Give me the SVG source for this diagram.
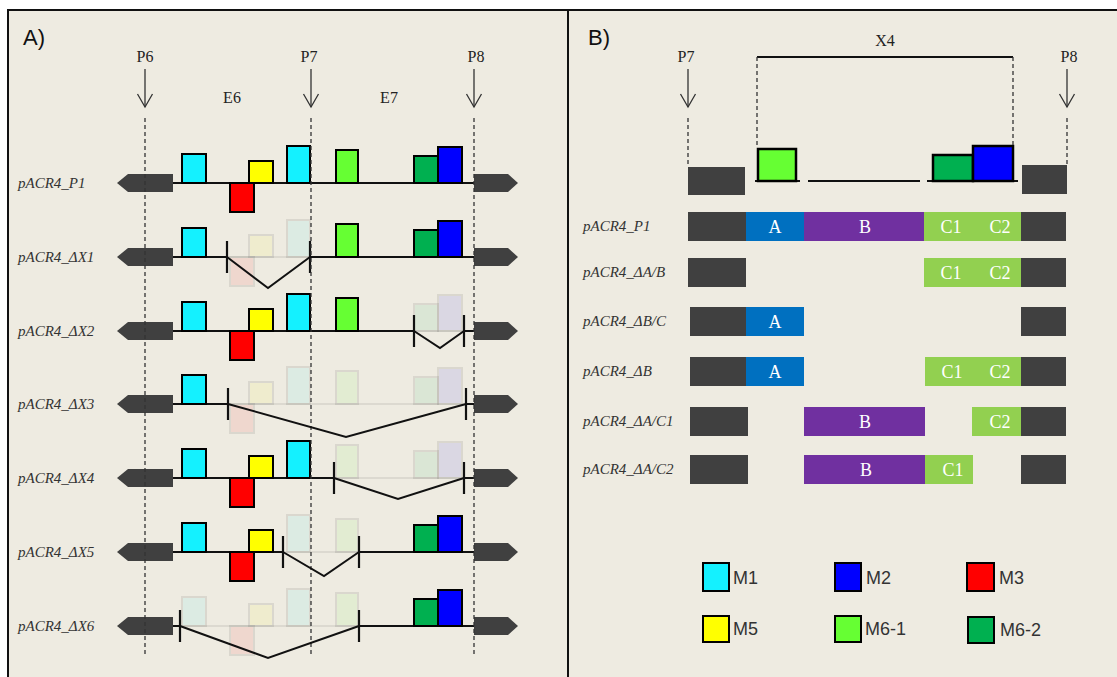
<svg xmlns="http://www.w3.org/2000/svg" width="1117" height="677" viewBox="0 0 1117 677">
<style>
.bg{fill:#EEEBE1}
.frame{stroke:#111;stroke-width:2;fill:none}
.lbl{font-family:"Liberation Serif",serif;font-size:16px;fill:#222;text-anchor:middle}
.row{font-family:"Liberation Serif",serif;font-style:italic;font-size:15px;fill:#333}
.pane{font-family:"Liberation Sans",sans-serif;font-size:22px;fill:#111}
.leg{font-family:"Liberation Sans",sans-serif;font-size:18px;fill:#333}
.bar{font-family:"Liberation Serif",serif;font-size:18px;fill:#fff;text-anchor:middle}
.dash{stroke:#333;stroke-width:1.3;stroke-dasharray:4 3;fill:none}
.ptr{stroke:#333;stroke-width:1.3;fill:none;marker-end:url(#open)}
.axis{stroke:#111;stroke-width:2;fill:none}
.splice{stroke:#111;stroke-width:2;fill:none;stroke-linejoin:miter}
.tick{stroke:#111;stroke-width:2.2}
.ghost{opacity:.08}
.box{stroke:#000;stroke-width:2}
.box2{stroke:#000;stroke-width:2.5}
.c-m1{fill:#14F1FF}
.c-m2{fill:#0000FF}
.c-m3{fill:#FF0000}
.c-m5{fill:#FFFF00}
.c-m61{fill:#66FF33}
.c-m62{fill:#00B050}
.end{fill:#404040}
.rA{fill:#0070C0}
.rB{fill:#7030A0}
.rC{fill:#92D050}
</style>
<defs>
  <marker id="open" markerUnits="userSpaceOnUse" markerWidth="20" markerHeight="20" viewBox="-16 -10 20 20" refX="0" refY="0" orient="auto">
    <path d="M-13,-7.5 L0,0 L-13,7.5" fill="none" stroke="#333" stroke-width="1.3"/>
  </marker>
  <!-- motif boxes, positioned relative to a row's baseline at y=0 -->
  <rect id="m1a" class="box c-m1" x="182" y="-29" width="24" height="29"/>
  <rect id="m3" class="box c-m3" x="230" y="0" width="24" height="29"/>
  <rect id="m5" class="box c-m5" x="249" y="-22" width="24" height="22"/>
  <rect id="m1b" class="box c-m1" x="287" y="-37" width="23" height="37"/>
  <rect id="m61" class="box c-m61" x="336" y="-33" width="22" height="33"/>
  <rect id="m62" class="box c-m62" x="414" y="-27" width="24" height="27"/>
  <rect id="m2" class="box c-m2" x="438" y="-36" width="24" height="36"/>
  <polygon id="endL" class="end" points="117,0 128,-9 173,-9 173,9 128,9"/>
  <polygon id="endR" class="end" points="474,-9 508,-9 518,0 508,9 474,9"/>
</defs>

<!-- page and panel frames -->
<rect x="0" y="0" width="1117" height="677" fill="#fff"/>
<rect class="bg" x="8" y="10" width="1109" height="667"/>
<path class="frame" d="M8,677 V10 H1117 M568,10 V677"/>

<!-- ===== Panel A ===== -->
<g id="panel-a">
  <text class="pane" x="23" y="45">A)</text>
  <text class="lbl" x="145" y="62">P6</text>
  <text class="lbl" x="309" y="62">P7</text>
  <text class="lbl" x="476" y="62">P8</text>
  <text class="lbl" x="232" y="103">E6</text>
  <text class="lbl" x="389" y="103">E7</text>

  <g id="row-p1" transform="translate(0,183)">
    <text class="row" x="18" y="5">pACR4_P1</text>
    <line class="axis" x1="173" y1="0" x2="474" y2="0"/>
    <use href="#endL"/><use href="#endR"/>
    <use href="#m1a"/><use href="#m3"/><use href="#m5"/><use href="#m1b"/>
    <use href="#m61"/><use href="#m62"/><use href="#m2"/>
  </g>

  <g id="row-dx1" transform="translate(0,257)">
    <text class="row" x="18" y="5">pACR4_ΔX1</text>
    <line class="axis ghost" x1="227" y1="0" x2="310" y2="0"/>
    <use href="#m3" class="ghost"/><use href="#m5" class="ghost"/><use href="#m1b" class="ghost"/>
    <line class="axis" x1="173" y1="0" x2="227" y2="0"/>
    <line class="axis" x1="310" y1="0" x2="474" y2="0"/>
    <use href="#endL"/><use href="#endR"/>
    <use href="#m1a"/><use href="#m61"/><use href="#m62"/><use href="#m2"/>
    <line class="tick" x1="227" y1="-16" x2="227" y2="16"/>
    <line class="tick" x1="310" y1="-16" x2="310" y2="16"/>
  </g>

  <g id="row-dx2" transform="translate(0,331)">
    <text class="row" x="18" y="5">pACR4_ΔX2</text>
    <line class="axis ghost" x1="414" y1="0" x2="464" y2="0"/>
    <use href="#m62" class="ghost"/><use href="#m2" class="ghost"/>
    <line class="axis" x1="173" y1="0" x2="414" y2="0"/>
    <line class="axis" x1="464" y1="0" x2="474" y2="0"/>
    <use href="#endL"/><use href="#endR"/>
    <use href="#m1a"/><use href="#m3"/><use href="#m5"/><use href="#m1b"/><use href="#m61"/>
    <line class="tick" x1="414" y1="-16" x2="414" y2="16"/>
    <line class="tick" x1="464" y1="-16" x2="464" y2="16"/>
  </g>

  <g id="row-dx3" transform="translate(0,404)">
    <text class="row" x="18" y="5">pACR4_ΔX3</text>
    <line class="axis ghost" x1="228" y1="0" x2="466" y2="0"/>
    <use href="#m3" class="ghost"/><use href="#m5" class="ghost"/><use href="#m1b" class="ghost"/>
    <use href="#m61" class="ghost"/><use href="#m62" class="ghost"/><use href="#m2" class="ghost"/>
    <line class="axis" x1="173" y1="0" x2="228" y2="0"/>
    <line class="axis" x1="466" y1="0" x2="474" y2="0"/>
    <use href="#endL"/><use href="#endR"/>
    <use href="#m1a"/>
    <line class="tick" x1="228" y1="-16" x2="228" y2="16"/>
    <line class="tick" x1="466" y1="-16" x2="466" y2="16"/>
  </g>

  <g id="row-dx4" transform="translate(0,478)">
    <text class="row" x="18" y="5">pACR4_ΔX4</text>
    <line class="axis ghost" x1="334" y1="0" x2="464" y2="0"/>
    <use href="#m61" class="ghost"/><use href="#m62" class="ghost"/><use href="#m2" class="ghost"/>
    <line class="axis" x1="173" y1="0" x2="334" y2="0"/>
    <line class="axis" x1="464" y1="0" x2="474" y2="0"/>
    <use href="#endL"/><use href="#endR"/>
    <use href="#m1a"/><use href="#m3"/><use href="#m5"/><use href="#m1b"/>
    <line class="tick" x1="334" y1="-16" x2="334" y2="16"/>
    <line class="tick" x1="464" y1="-16" x2="464" y2="16"/>
  </g>

  <g id="row-dx5" transform="translate(0,552)">
    <text class="row" x="18" y="5">pACR4_ΔX5</text>
    <line class="axis ghost" x1="283" y1="0" x2="359" y2="0"/>
    <use href="#m1b" class="ghost"/><use href="#m61" class="ghost"/>
    <line class="axis" x1="173" y1="0" x2="283" y2="0"/>
    <line class="axis" x1="359" y1="0" x2="474" y2="0"/>
    <use href="#endL"/><use href="#endR"/>
    <use href="#m1a"/><use href="#m3"/><use href="#m5"/><use href="#m62"/><use href="#m2"/>
    <line class="tick" x1="283" y1="-16" x2="283" y2="16"/>
    <line class="tick" x1="359" y1="-16" x2="359" y2="16"/>
  </g>

  <g id="row-dx6" transform="translate(0,626)">
    <text class="row" x="18" y="5">pACR4_ΔX6</text>
    <line class="axis ghost" x1="180" y1="0" x2="359" y2="0"/>
    <use href="#m1a" class="ghost"/><use href="#m3" class="ghost"/><use href="#m5" class="ghost"/>
    <use href="#m1b" class="ghost"/><use href="#m61" class="ghost"/>
    <line class="axis" x1="173" y1="0" x2="180" y2="0"/>
    <line class="axis" x1="359" y1="0" x2="474" y2="0"/>
    <use href="#endL"/><use href="#endR"/>
    <use href="#m62"/><use href="#m2"/>
    <line class="tick" x1="180" y1="-16" x2="180" y2="16"/>
    <line class="tick" x1="359" y1="-16" x2="359" y2="16"/>
  </g>

  <g id="connectors-a">
    <!-- primer pointers -->
    <line class="ptr" x1="145" y1="69" x2="145" y2="107"/>
    <line class="ptr" x1="311" y1="69" x2="311" y2="107"/>
    <line class="ptr" x1="474" y1="69" x2="474" y2="107"/>
    <!-- guide lines -->
    <line class="dash" x1="145" y1="118" x2="145" y2="656"/>
    <line class="dash" x1="311" y1="118" x2="311" y2="656"/>
    <line class="dash" x1="474" y1="118" x2="474" y2="656"/>
    <!-- splice junctions -->
    <polyline class="splice" points="227,257 268,288 310,257"/>
    <polyline class="splice" points="414,331 440,348 464,331"/>
    <polyline class="splice" points="228,404 346,437 466,404"/>
    <polyline class="splice" points="334,478 398,499 464,478"/>
    <polyline class="splice" points="283,552 324,576 359,552"/>
    <polyline class="splice" points="180,626 268,658 359,626"/>
  </g>
</g>

<!-- ===== Panel B ===== -->
<g id="panel-b">
  <text class="pane" x="588" y="45">B)</text>
  <text class="lbl" x="686" y="62">P7</text>
  <text class="lbl" x="1069" y="62">P8</text>
  <text class="lbl" x="885" y="46">X4</text>

  <g id="exon-map">
    <rect class="end" x="688" y="167" width="57" height="28"/>
    <rect class="end" x="1022" y="165" width="45" height="29"/>
    <line class="axis" x1="755" y1="181" x2="800" y2="181"/>
    <line class="axis" x1="808" y1="181" x2="920" y2="181"/>
    <line class="axis" x1="927" y1="181" x2="1018" y2="181"/>
    <rect class="box2 c-m61" x="758" y="149" width="38" height="32"/>
    <rect class="box2 c-m62" x="933" y="155" width="40" height="26"/>
    <rect class="box2 c-m2" x="973" y="146" width="40" height="35"/>
  </g>

  <g id="row-b-p1">
    <text class="row" x="583" y="231">pACR4_P1</text>
    <rect class="end" x="688" y="212" width="58" height="29"/>
    <rect class="rA" x="746" y="212" width="58" height="29"/>
    <rect class="rB" x="804" y="212" width="120" height="29"/>
    <rect class="rC" x="924" y="212" width="97" height="29"/>
    <rect class="end" x="1021" y="212" width="45" height="29"/>
    <text class="bar" x="775" y="233">A</text>
    <text class="bar" x="865" y="233">B</text>
    <text class="bar" x="951" y="233">C1</text>
    <text class="bar" x="1000" y="233">C2</text>
  </g>

  <g id="row-b-dab">
    <text class="row" x="583" y="277">pACR4_ΔA/B</text>
    <rect class="end" x="688" y="258" width="58" height="29"/>
    <rect class="rC" x="924" y="258" width="97" height="29"/>
    <rect class="end" x="1021" y="258" width="45" height="29"/>
    <text class="bar" x="951" y="279">C1</text>
    <text class="bar" x="1000" y="279">C2</text>
  </g>

  <g id="row-b-dbc">
    <text class="row" x="583" y="326">pACR4_ΔB/C</text>
    <rect class="end" x="690" y="307" width="56" height="29"/>
    <rect class="rA" x="746" y="307" width="58" height="29"/>
    <rect class="end" x="1021" y="307" width="45" height="29"/>
    <text class="bar" x="775" y="328">A</text>
  </g>

  <g id="row-b-db">
    <text class="row" x="583" y="376">pACR4_ΔB</text>
    <rect class="end" x="690" y="357" width="56" height="29"/>
    <rect class="rA" x="746" y="357" width="58" height="29"/>
    <rect class="rC" x="925" y="357" width="96" height="29"/>
    <rect class="end" x="1021" y="357" width="45" height="29"/>
    <text class="bar" x="775" y="378">A</text>
    <text class="bar" x="952" y="378">C1</text>
    <text class="bar" x="1000" y="378">C2</text>
  </g>

  <g id="row-b-dac1">
    <text class="row" x="583" y="426">pACR4_ΔA/C1</text>
    <rect class="end" x="690" y="407" width="58" height="29"/>
    <rect class="rB" x="804" y="407" width="121" height="29"/>
    <rect class="rC" x="972" y="407" width="49" height="29"/>
    <rect class="end" x="1021" y="407" width="45" height="29"/>
    <text class="bar" x="865" y="428">B</text>
    <text class="bar" x="1000" y="428">C2</text>
  </g>

  <g id="row-b-dac2">
    <text class="row" x="583" y="474">pACR4_ΔA/C2</text>
    <rect class="end" x="690" y="455" width="58" height="29"/>
    <rect class="rB" x="804" y="455" width="121" height="29"/>
    <rect class="rC" x="925" y="455" width="48" height="29"/>
    <rect class="end" x="1021" y="455" width="45" height="29"/>
    <text class="bar" x="866" y="476">B</text>
    <text class="bar" x="953" y="476">C1</text>
  </g>

  <g id="legend">
    <g id="key-m1"><rect class="box c-m1" x="703" y="563" width="26" height="28"/><text class="leg" x="733" y="584">M1</text></g>
    <g id="key-m2"><rect class="box c-m2" x="835" y="563" width="26" height="28"/><text class="leg" x="866" y="584">M2</text></g>
    <g id="key-m3"><rect class="box c-m3" x="967" y="563" width="27" height="28"/><text class="leg" x="999" y="584">M3</text></g>
    <g id="key-m5"><rect class="box c-m5" x="703" y="616" width="26" height="26"/><text class="leg" x="733" y="635">M5</text></g>
    <g id="key-m61"><rect class="box c-m61" x="835" y="616" width="26" height="26"/><text class="leg" x="865" y="635">M6-1</text></g>
    <g id="key-m62"><rect class="box c-m62" x="968" y="617" width="26" height="26"/><text class="leg" x="1000" y="636">M6-2</text></g>
  </g>

  <g id="connectors-b">
    <line class="ptr" x1="688" y1="69" x2="688" y2="107"/>
    <line class="ptr" x1="1067" y1="69" x2="1067" y2="107"/>
    <line class="dash" x1="688" y1="118" x2="688" y2="166"/>
    <line class="dash" x1="1067" y1="118" x2="1067" y2="164"/>
    <!-- X4 span -->
    <line class="axis" x1="757" y1="57" x2="1013" y2="57"/>
    <line class="dash" x1="757" y1="57" x2="757" y2="148"/>
    <line class="dash" x1="1013" y1="57" x2="1013" y2="145"/>
  </g>
</g>
</svg>
